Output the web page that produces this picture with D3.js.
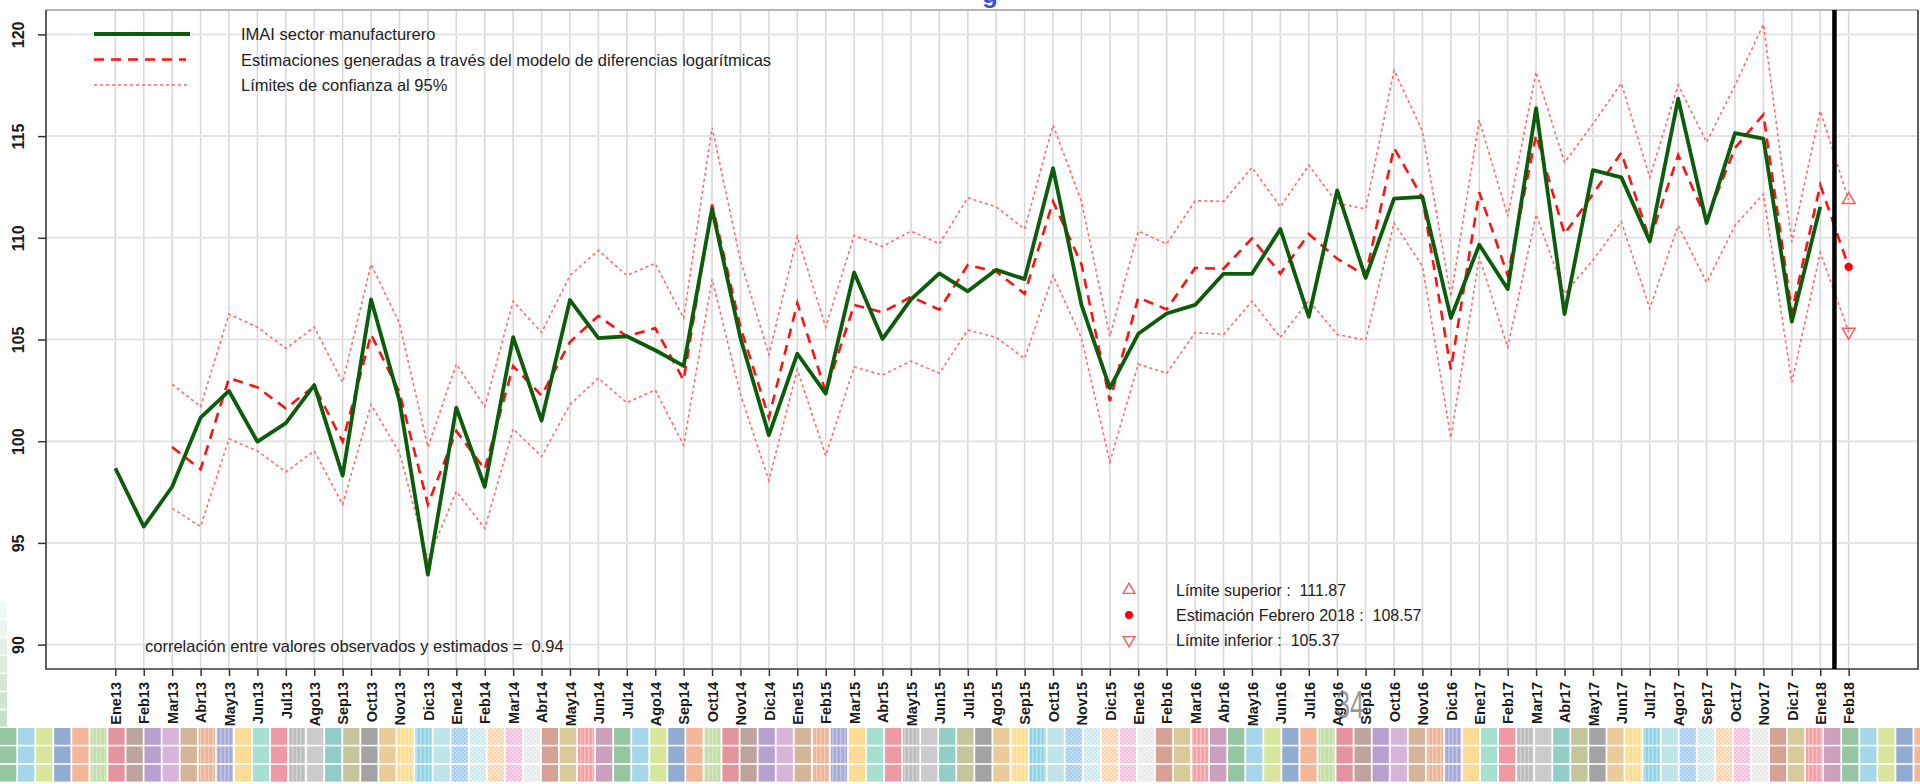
<!DOCTYPE html>
<html>
<head>
<meta charset="utf-8">
<title>IMAI sector manufacturero</title>
<script src="https://cdn.jsdelivr.net/npm/d3@7/dist/d3.min.js"></script>
<style>
  body{ margin:0; background:#fff; }
  svg{ display:block; font-family:"Liberation Sans", Arial, sans-serif; }
  text{ white-space:pre; }
</style>
</head>
<body>
<svg width="1920" height="784"></svg>
<script>
// meses (eje x)
var months = ["Ene13","Feb13","Mar13","Abr13","May13","Jun13","Jul13","Ago13","Sep13","Oct13","Nov13","Dic13",
              "Ene14","Feb14","Mar14","Abr14","May14","Jun14","Jul14","Ago14","Sep14","Oct14","Nov14","Dic14",
              "Ene15","Feb15","Mar15","Abr15","May15","Jun15","Jul15","Ago15","Sep15","Oct15","Nov15","Dic15",
              "Ene16","Feb16","Mar16","Abr16","May16","Jun16","Jul16","Ago16","Sep16","Oct16","Nov16","Dic16",
              "Ene17","Feb17","Mar17","Abr17","May17","Jun17","Jul17","Ago17","Sep17","Oct17","Nov17","Dic17",
              "Ene18","Feb18"];

// IMAI observado (Ene13 - Ene18)
var observado = [98.67, 95.80, 97.76, 101.16, 102.47, 99.98, 100.89, 102.76, 98.31, 106.97, 101.98, 93.44,
                 101.65, 97.76, 105.12, 101.01, 106.94, 105.07, 105.16, 104.47, 103.70, 111.42, 105.07, 100.30,
                 104.30, 102.34, 108.30, 105.03, 106.97, 108.25, 107.37, 108.43, 107.97, 113.42, 106.70, 102.61,
                 105.28, 106.28, 106.70, 108.23, 108.23, 110.43, 106.12, 112.33, 108.03, 111.93, 112.01, 106.06,
                 109.66, 107.48, 116.37, 106.25, 113.33, 112.97, 109.83, 116.84, 110.73, 115.15, 114.88, 105.88,
                 111.52];

// estimaciones modelo diferencias logaritmicas (Mar13 - Feb18)
var estimado = [null, null, 99.71, 98.62, 103.10, 102.65, 101.61, 102.70, 99.98, 105.25, 102.40, 96.89,
                100.50, 98.62, 103.70, 102.25, 104.88, 106.16, 105.16, 105.56, 103.00, 111.64, 105.61, 101.16,
                106.79, 102.43, 106.70, 106.34, 107.10, 106.47, 108.66, 108.34, 107.25, 111.79, 108.70, 101.98,
                107.06, 106.48, 108.52, 108.48, 109.97, 108.24, 110.19, 108.97, 108.15, 114.42, 111.97, 103.52,
                112.24, 108.15, 115.06, 110.19, 112.15, 114.19, 109.88, 114.06, 110.88, 114.42, 116.06, 106.34,
                112.60, 108.57];

var limSup = [null, null, 102.80, 101.70, 106.25, 105.61, 104.56, 105.61, 102.89, 108.70, 105.79, 99.71,
              103.79, 101.70, 106.88, 105.34, 108.15, 109.39, 108.15, 108.74, 106.05, 115.42, 108.88, 104.25,
              110.06, 105.61, 110.12, 109.57, 110.33, 109.70, 111.97, 111.52, 110.43, 115.55, 111.79, 105.16,
              110.33, 109.70, 111.82, 111.79, 113.46, 111.52, 113.57, 111.70, 111.42, 118.24, 115.24, 107.10,
              115.78, 111.06, 118.15, 113.70, 115.60, 117.60, 112.97, 117.51, 114.70, 117.50, 120.50, 109.79,
              116.24, 111.87];

var limInf = [null, null, 96.70, 95.80, 100.12, 99.52, 98.49, 99.52, 96.89, 101.80, 99.43, 94.16,
              97.53, 95.71, 100.61, 99.25, 101.80, 103.10, 101.89, 102.52, 99.80, 107.97, 102.30, 98.07,
              103.52, 99.29, 103.65, 103.25, 103.94, 103.34, 105.47, 105.10, 104.07, 108.15, 105.07, 98.98,
              103.79, 103.34, 105.34, 105.25, 106.88, 105.10, 106.92, 105.25, 104.97, 110.73, 108.60, 100.16,
              109.06, 104.61, 111.15, 107.25, 108.90, 110.79, 106.52, 110.61, 107.79, 110.61, 112.15, 102.89,
              109.28, 105.37];

var yTicks = [90, 95, 100, 105, 110, 115, 120];

var legendLabels = ["IMAI sector manufacturero",
                    "Estimaciones generadas a través del modelo de diferencias logarítmicas",
                    "Límites de confianza al 95%"];
var pronLabels = ["Límite superior :  111.87", "Estimación Febrero 2018 :  108.57", "Límite inferior :  105.37"];
var corrLabel = "correlación entre valores observados y estimados =  0.94";

// colores de la franja inferior (s = liso, v = rayado, c = cuadriculado)
var stripColors = [["#95c5a1","s"],["#a6d6ea","s"],["#d8e59c","s"],["#92abd0","s"],["#f4b698","s"],["#c3dea8","v"],
                   ["#e3939d","s"],["#bca49c","s"],["#b8a1cf","s"],["#d7b5d8","s"],["#d3b699","s"],["#ebb597","v"],
                   ["#a8abd9","v"],["#fcdb94","s"],["#a7e0d1","s"],["#ee99a3","s"],["#bdbdbd","v"],["#cbcbcb","s"],
                   ["#93cdc7","s"],["#c5c59b","s"],["#a3a3a3","s"],["#ebcc99","s"],["#fcdc8f","v"],["#8fd5e5","v"],
                   ["#bfe5ea","s"],["#a3ccee","c"],["#cce8ec","c"],["#fad4ad","c"],["#f1bfdb","c"],["#e9e9e9","c"],
                   ["#d6a295","s"],["#d9ca9c","s"],["#f3a1a4","v"],["#cc9fbc","s"]];

var svg = d3.select("svg"),
    pLeft = 46, pRight = 1918, pTop = 10, pBottom = 669;

var x = d3.scaleLinear().domain([-2.44, 63.44]).range([pLeft, pRight]);
var y = d3.scaleLinear().domain([88.8, 121.2]).range([pBottom, pTop]);

// patrones de la franja
var defs = svg.append("defs");
stripColors.forEach(function(c, k){
    if (c[1] == "s") return;
    var p = defs.append("pattern").attr("id", "pt" + k).attr("patternUnits", "userSpaceOnUse")
        .attr("width", 4).attr("height", 4);
    p.append("rect").attr("width", 4).attr("height", 4).attr("fill", c[0]);
    if (c[1] == "v") {
        p.append("rect").attr("width", 1.5).attr("height", 4).attr("fill", "#fff").attr("opacity", 0.3);
    } else {
        p.append("rect").attr("width", 2).attr("height", 2).attr("fill", "#fff").attr("opacity", 0.35);
        p.append("rect").attr("x", 2).attr("y", 2).attr("width", 2).attr("height", 2).attr("fill", "#fff").attr("opacity", 0.35);
    }
});

// franja de colores
var cells = [];
for (var col = 0; col < 107; col++) {
    for (var row = 0; row < 3; row++) cells.push({col: col, row: row});
}
svg.append("g").selectAll("rect").data(cells).enter().append("rect")
    .attr("x", function(d){ return d.col * 18.06; })
    .attr("y", function(d){ return 728 + d.row * 18.4; })
    .attr("width", 16.3)
    .attr("height", 16.8)
    .attr("fill", function(d){
        var k = d.col % stripColors.length;
        return stripColors[k][1] == "s" ? stripColors[k][0] : "url(#pt" + k + ")";
    });

// columna verde a la izquierda
svg.append("g").selectAll("rect").data(d3.range(7)).enter().append("rect")
    .attr("x", 0).attr("y", function(d){ return 602 + d * 18.06; })
    .attr("width", 7).attr("height", 16.3)
    .attr("fill", "#95c5a1")
    .attr("opacity", function(d){ return 0.12 + d * 0.07; });

// rejilla
var g = svg.append("g");
g.selectAll(".vg").data(months).enter().append("line")
    .attr("x1", function(d, i){ return x(i); }).attr("x2", function(d, i){ return x(i); })
    .attr("y1", pTop).attr("y2", pBottom)
    .attr("stroke", "#d9d9d9").attr("stroke-width", 1.6);
g.selectAll(".hg").data(yTicks).enter().append("line")
    .attr("x1", pLeft).attr("x2", pRight)
    .attr("y1", function(d){ return y(d); }).attr("y2", function(d){ return y(d); })
    .attr("stroke", "#e4e4e4").attr("stroke-width", 2);

// ejes
var xAxis = g.append("g")
    .attr("transform", "translate(0," + pBottom + ")")
    .call(d3.axisBottom(x).tickValues(d3.range(months.length))
        .tickFormat(function(i){ return months[i]; }).tickSize(7));
xAxis.select(".domain").remove();
xAxis.selectAll("line").attr("stroke", "#333").attr("stroke-width", 1.5);
xAxis.selectAll("text")
    .attr("transform", "rotate(-90)")
    .attr("x", -13).attr("y", 0).attr("dy", "0.36em")
    .style("text-anchor", "end")
    .style("font-size", "14.5px").style("font-weight", "bold")
    .style("font-family", "'Liberation Sans', Arial, sans-serif")
    .attr("fill", "#1a1a1a");

var yAxis = g.append("g")
    .attr("transform", "translate(" + pLeft + ",0)")
    .call(d3.axisLeft(y).tickValues(yTicks).tickSize(8));
yAxis.select(".domain").remove();
yAxis.selectAll("line").attr("stroke", "#333").attr("stroke-width", 1.5);
yAxis.selectAll("text")
    .attr("transform", "translate(-22,0) rotate(-90)")
    .attr("x", 0).attr("y", 0).attr("dy", 0)
    .style("text-anchor", "middle")
    .style("font-size", "16px").style("font-weight", "bold")
    .style("font-family", "'Liberation Sans', Arial, sans-serif")
    .attr("fill", "#1a1a1a");

// marco
g.append("line").attr("x1", pLeft).attr("x2", pRight).attr("y1", pTop).attr("y2", pTop)
    .attr("stroke", "#b5b5b5").attr("stroke-width", 2);
g.append("path")
    .attr("d", "M" + pLeft + "," + pTop + "V" + pBottom + "H" + pRight + "V" + pTop)
    .attr("fill", "none").attr("stroke", "#3a3a3a").attr("stroke-width", 1.6);

// series
var line = d3.line()
    .defined(function(d){ return d != null; })
    .x(function(d, i){ return x(i); })
    .y(function(d){ return y(d); });

g.append("path").datum(limSup).attr("d", line)
    .attr("fill", "none").attr("stroke", "#ff6a6a").attr("stroke-width", 1.6).attr("stroke-dasharray", "3,3");
g.append("path").datum(limInf).attr("d", line)
    .attr("fill", "none").attr("stroke", "#ff6a6a").attr("stroke-width", 1.6).attr("stroke-dasharray", "3,3");
g.append("path").datum(estimado).attr("d", line)
    .attr("fill", "none").attr("stroke", "#ff1111").attr("stroke-width", 2.6).attr("stroke-dasharray", "10,7");
g.append("path").datum(observado).attr("d", line)
    .attr("fill", "none").attr("stroke", "#0b5d0b").attr("stroke-width", 3.8).attr("stroke-linejoin", "round");

// linea vertical de pronostico
g.append("line").attr("x1", x(60.5)).attr("x2", x(60.5)).attr("y1", pTop).attr("y2", pBottom)
    .attr("stroke", "#000").attr("stroke-width", 4.5);

// puntos del pronostico Feb18
var last = months.length - 1;
var triUp = d3.symbol().type(d3.symbolTriangle).size(70);
g.append("path").attr("d", triUp)
    .attr("transform", "translate(" + x(last) + "," + y(limSup[last]) + ")")
    .attr("fill", "none").attr("stroke", "#ff5a5a").attr("stroke-width", 1.5);
g.append("path").attr("d", triUp)
    .attr("transform", "translate(" + x(last) + "," + y(limInf[last]) + ") rotate(180)")
    .attr("fill", "none").attr("stroke", "#ff5a5a").attr("stroke-width", 1.5);
g.append("circle").attr("cx", x(last)).attr("cy", y(estimado[last])).attr("r", 4.2).attr("fill", "#ff0000");

// leyenda superior
var leg = g.append("g").attr("transform", "translate(94,34)");
var legStyles = [
    {stroke: "#0b5d0b", w: 3.8, dash: null, x2: 96},
    {stroke: "#ff1111", w: 2.6, dash: "10,7", x2: 92},
    {stroke: "#ff6a6a", w: 1.6, dash: "3,3", x2: 96}
];
legendLabels.forEach(function(t, k){
    var s = legStyles[k];
    leg.append("line").attr("x1", 0).attr("x2", s.x2).attr("y1", k * 25.5).attr("y2", k * 25.5)
        .attr("stroke", s.stroke).attr("stroke-width", s.w).attr("stroke-dasharray", s.dash);
    leg.append("text").attr("x", 147).attr("y", k * 25.5 + 6)
        .style("font-size", "16.5px").attr("fill", "#222").text(t);
});

// leyenda del pronostico
var leg2 = g.append("g").attr("transform", "translate(1129,590)");
leg2.append("path").attr("d", d3.symbol().type(d3.symbolTriangle).size(60))
    .attr("fill", "none").attr("stroke", "#ff5a5a").attr("stroke-width", 1.4);
leg2.append("circle").attr("cy", 25).attr("r", 4).attr("fill", "#ff0000");
leg2.append("path").attr("d", d3.symbol().type(d3.symbolTriangle).size(60))
    .attr("transform", "translate(0,50) rotate(180)")
    .attr("fill", "none").attr("stroke", "#ff5a5a").attr("stroke-width", 1.4);
pronLabels.forEach(function(t, k){
    leg2.append("text").attr("x", 47).attr("y", k * 25 + 6)
        .style("font-size", "16px").attr("fill", "#222").text(t);
});

// correlacion
g.append("text").attr("x", 145).attr("y", 652)
    .style("font-size", "16.5px").attr("fill", "#222").text(corrLabel);

// resto del titulo recortado arriba
svg.append("text").attr("x", 982).attr("y", 3)
    .style("font-size", "26px").style("font-weight", "bold").attr("fill", "#3656c8").text("g");

// numero de pagina
svg.append("text").attr("x", 1336).attr("y", 718)
    .attr("textLength", 28).attr("lengthAdjust", "spacingAndGlyphs")
    .style("font-size", "38px").attr("fill", "#777").attr("opacity", 0.75).text("34");
</script>
</body>
</html>
